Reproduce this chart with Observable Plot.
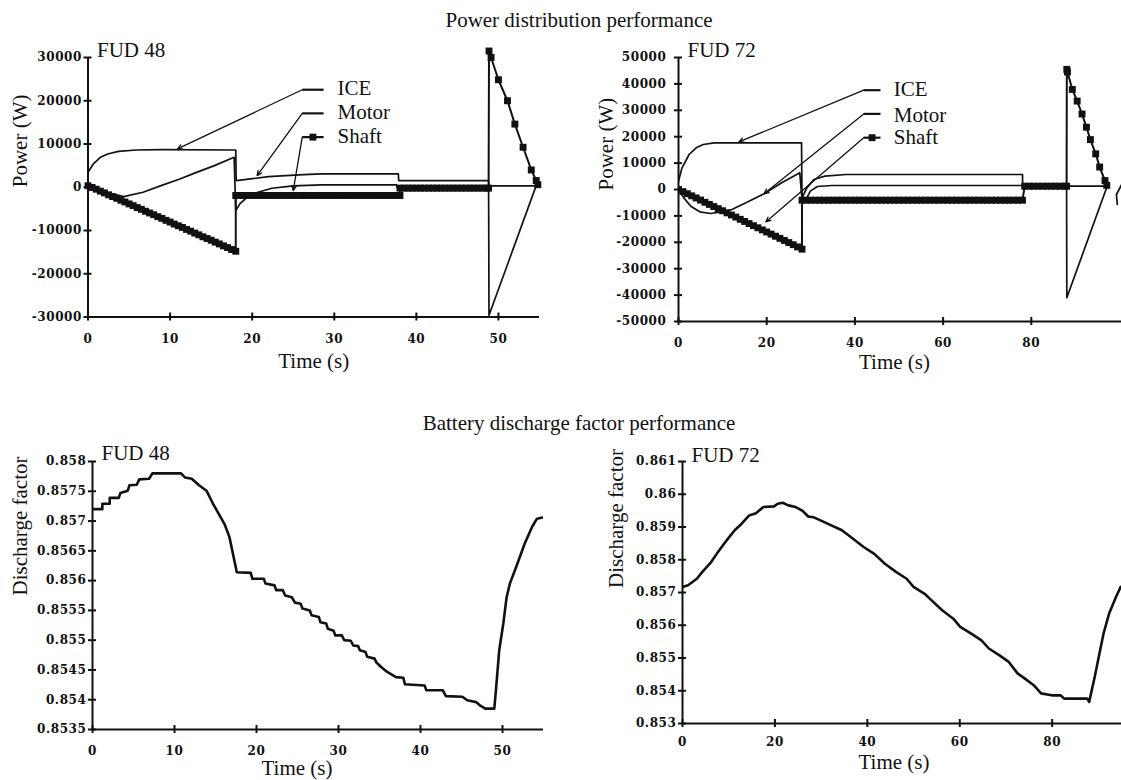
<!DOCTYPE html>
<html>
<head>
<meta charset="utf-8">
<script src="https://cdn.jsdelivr.net/npm/d3@7"></script>
<script src="https://cdn.jsdelivr.net/npm/@observablehq/plot@0.6"></script>
<style>
  html, body { margin: 0; padding: 0; background: #fff; }
  #root { position: relative; width: 1121px; height: 780px; overflow: hidden; background: #fff;
          font-family: "Liberation Serif", "Times New Roman", serif; color: #111; }
  .title { position: absolute; width: 600px; text-align: center; font-size: 21px; line-height: 24px; }
  .panel { position: absolute; }
  .panel svg { overflow: visible; }
  g[aria-label="y-axis tick label"] text, g[aria-label="x-axis tick label"] text {
    font-family: "DejaVu Serif", serif; font-weight: bold; font-size: 12px; letter-spacing: 0.6px;
  }
</style>
</head>
<body>
<div id="root">
  <div class="title" style="left:279px; top:8px;">Power distribution performance</div>
  <div class="title" style="left:279px; top:411px;">Battery discharge factor performance</div>
  <div class="panel" id="tl" style="left:0px; top:0px;"></div>
  <div class="panel" id="tr" style="left:560px; top:0px;"></div>
  <div class="panel" id="bl" style="left:0px; top:390px;"></div>
  <div class="panel" id="br" style="left:560px; top:390px;"></div>
</div>
<script>
// ---------------- DATA ----------------
const seriesNames = ["ICE", "Motor", "Shaft"];

// FUD 48 — power distribution (W)
const fud48XTicks = [0, 10, 20, 30, 40, 50];
const fud48PowerTicks = [-30000, -20000, -10000, 0, 10000, 20000, 30000];
const fud48IceTime  = [0, 0.65, 1.5, 2.4, 3.7, 5.9, 8.9, 18, 18.05, 19.8, 22, 24.1, 26.3, 28.5, 37.8, 37.85, 48.8, 48.85, 54.8];
const fud48IcePower = [3460, 5380, 6920, 7690, 8300, 8610, 8690, 8610, 1540, 1920, 2460, 2690, 2920, 3080, 3080, 1540, 1540, 300, 300];
const fud48MotorTime  = [0, 1.5, 3.3, 4.35, 6.7, 8.9, 11.1, 13.3, 15.4, 17.8, 18.0, 18.5, 19.3, 20.7, 22.4, 25, 28.5, 37.6, 37.65, 48.8, 48.85, 54.6, 54.8];
const fud48MotorPower = [0, -770, -1690, -2150, -1150, 380, 1850, 3500, 5000, 6920, -5380, -3850, -2460, -1150, -230, 310, 540, 540, 0, 0, -29600, 380, 380];
const fud48ShaftTime = [
  0, 0.5, 1, 1.5, 2, 2.5, 3, 3.5, 4, 4.5, 5, 5.5, 6, 6.5, 7, 7.5, 8, 8.5, 9, 9.5, 10, 10.5, 11, 11.5, 12, 12.5, 13, 13.5, 14, 14.5, 15, 15.5, 16, 16.5, 17, 17.5, 18,
  18, 18.5, 19, 19.5, 20, 20.5, 21, 21.5, 22, 22.5, 23, 23.5, 24, 24.5, 25, 25.5, 26, 26.5, 27, 27.5, 28, 28.5, 29, 29.5, 30, 30.5, 31, 31.5, 32, 32.5, 33, 33.5, 34, 34.5, 35, 35.5, 36, 36.5, 37, 37.5, 38,
  38, 38.5, 39, 39.5, 40, 40.5, 41, 41.5, 42, 42.5, 43, 43.5, 44, 44.5, 45, 45.5, 46, 46.5, 47, 47.5, 48, 48.5, 48.8,
  48.85, 49.1, 50, 51.1, 52, 53, 54, 54.6, 54.8];
const fud48ShaftPower = [
  350, -50, -450, -900, -1300, -1750, -2150, -2550, -3000, -3400, -3850, -4250, -4700, -5100, -5550, -5950, -6350, -6800, -7200, -7650, -8050, -8500, -8900, -9300, -9750, -10150, -10600, -11000, -11450, -11850, -12250, -12700, -13100, -13550, -13950, -14400, -14800,
  -1900, -1900, -1900, -1900, -1900, -1900, -1900, -1900, -1900, -1900, -1900, -1900, -1900, -1900, -1900, -1900, -1900, -1900, -1900, -1900, -1900, -1900, -1900, -1900, -1900, -1900, -1900, -1900, -1900, -1900, -1900, -1900, -1900, -1900, -1900, -1900, -1900, -1900, -1900, -1900, -1900,
  -200, -200, -200, -200, -200, -200, -200, -200, -200, -200, -200, -200, -200, -200, -200, -200, -200, -200, -200, -200, -200, -200, -200,
  31500, 30000, 24850, 20000, 14600, 9250, 4000, 1550, 600];

// FUD 72 — power distribution (W)
const fud72XTicks = [0, 20, 40, 60, 80];
const fud72PowerTicks = [-50000, -40000, -30000, -20000, -10000, 0, 10000, 20000, 30000, 40000, 50000];
const fud72IceTime  = [0, 0.8, 2.4, 4.0, 5.6, 8.1, 27.9, 28.0, 29.1, 30.7, 33.2, 38.0, 78.0, 78.05, 97.2];
const fud72IcePower = [3160, 8210, 13260, 15790, 17050, 17680, 17680, -3160, 630, 3790, 5050, 5680, 5680, 1250, 1250];
const fud72MotorTime  = [0, 1.2, 2.8, 4.8, 7.3, 9.7, 12.1, 15.3, 19.4, 23.4, 27.5, 28.0, 29.1, 29.9, 31.5, 34.8, 78.0, 78.05, 88.0, 88.05, 97.2, NaN, 100.5, 99.3, 99.5];
const fud72MotorPower = [0, -3160, -6320, -8460, -9090, -8460, -7580, -5050, -1640, 2530, 6320, -3800, -3160, -630, 1140, 1520, 1520, 1250, 1250, -41000, 1250, NaN, 1890, -1890, -5680];
const fud72ShaftTime = [
  0, 1, 2, 3, 4, 5, 6, 7, 8, 9, 10, 11, 12, 13, 14, 15, 16, 17, 18, 19, 20, 21, 22, 23, 24, 25, 26, 27, 28,
  28, 29, 30, 31, 32, 33, 34, 35, 36, 37, 38, 39, 40, 41, 42, 43, 44, 45, 46, 47, 48, 49, 50, 51, 52, 53, 54, 55, 56, 57, 58, 59, 60, 61, 62, 63, 64, 65, 66, 67, 68, 69, 70, 71, 72, 73, 74, 75, 76, 77, 78,
  78.5, 79.5, 80.5, 81.5, 82.5, 83.5, 84.5, 85.5, 86.5, 87.5, 88,
  88.05, 88.2, 89.3, 90.4, 91.5, 92.5, 93.4, 94.6, 95.5, 96.7, 97.1];
const fud72ShaftPower = [
  0, -800, -1600, -2400, -3200, -4000, -4850, -5650, -6450, -7250, -8050, -8850, -9650, -10450, -11300, -12100, -12900, -13700, -14500, -15300, -16100, -16900, -17700, -18500, -19300, -20100, -20900, -21750, -22600,
  -4050, -4050, -4050, -4050, -4050, -4050, -4050, -4050, -4050, -4050, -4050, -4050, -4050, -4050, -4050, -4050, -4050, -4050, -4050, -4050, -4050, -4050, -4050, -4050, -4050, -4050, -4050, -4050, -4050, -4050, -4050, -4050, -4050, -4050, -4050, -4050, -4050, -4050, -4050, -4050, -4050, -4050, -4050, -4050, -4050, -4050, -4050, -4050, -4050, -4050, -4050,
  1250, 1250, 1250, 1250, 1250, 1250, 1250, 1250, 1250, 1250, 1250,
  45500, 44500, 37900, 33500, 28600, 23600, 18900, 13500, 8500, 3400, 1600];

// FUD 48 — battery discharge factor
const fud48FactorTicks = [0.8535, 0.854, 0.8545, 0.855, 0.8555, 0.856, 0.8565, 0.857, 0.8575, 0.858];
const fud48DischargeTime = [0, 1.2, 1.2, 2.1, 2.1, 3.2, 3.4, 4.3, 4.5, 5.4, 5.7, 6.9, 7.3, 10.8, 11.3, 12.1, 13.0, 13.9, 14.7, 16.1, 16.7, 17.6, 19.3, 19.5, 20.9, 21.1, 22.2, 22.4, 23.2, 23.5, 24.3, 24.7, 25.4, 25.6, 26.5, 26.7, 27.6, 27.8, 28.5, 28.7, 29.4, 29.6, 30.4, 30.7, 31.5, 31.8, 32.4, 32.6, 33.3, 33.5, 34.4, 34.6, 35.2, 35.9, 37.0, 37.9, 38.1, 40.5, 40.7, 42.7, 43.1, 45.1, 45.7, 46.8, 47.2, 47.9, 49.0, 49.2, 49.6, 50.1, 50.5, 50.9, 51.8, 52.7, 53.6, 54.2, 54.9];
const fud48DischargeFactor = [0.8572, 0.8572, 0.85729, 0.85729, 0.85739, 0.85739, 0.85747, 0.85751, 0.8576, 0.85761, 0.8577, 0.85771, 0.8578, 0.8578, 0.85773, 0.85771, 0.8576, 0.85751, 0.85729, 0.85695, 0.85673, 0.85614, 0.85613, 0.85603, 0.85603, 0.85595, 0.85592, 0.85584, 0.85584, 0.85575, 0.85572, 0.85563, 0.85561, 0.85553, 0.8555, 0.85542, 0.85539, 0.8553, 0.85528, 0.85519, 0.85516, 0.85508, 0.85508, 0.855, 0.85499, 0.85491, 0.8549, 0.85483, 0.8548, 0.85472, 0.85469, 0.85463, 0.85455, 0.85447, 0.85438, 0.85437, 0.85426, 0.85424, 0.85416, 0.85416, 0.85406, 0.85405, 0.85399, 0.85396, 0.85391, 0.85385, 0.85385, 0.85416, 0.85483, 0.85528, 0.85572, 0.85595, 0.85628, 0.85662, 0.8569, 0.85704, 0.85706];

// FUD 72 — battery discharge factor
const fud72FactorTicks = [0.853, 0.854, 0.855, 0.856, 0.857, 0.858, 0.859, 0.86, 0.861];
const fud72DischargeTime = [0, 1.2, 3.1, 4.3, 6.2, 7.4, 9.0, 10.1, 11.3, 12.8, 14.4, 15.9, 17.5, 19.8, 20.6, 21.7, 22.9, 24.5, 26.0, 27.2, 28.3, 30.7, 32.2, 34.5, 36.9, 39.2, 41.5, 43.8, 46.2, 48.5, 50.0, 52.4, 53.9, 56.2, 58.6, 60.1, 62.4, 64.7, 66.3, 68.6, 70.6, 72.5, 74.1, 76.0, 77.6, 79.9, 81.8, 82.6, 87.6, 88.0, 89.2, 91.1, 92.3, 93.8, 94.8];
const fud72DischargeFactor = [0.85717, 0.85722, 0.85742, 0.85763, 0.85793, 0.85818, 0.85849, 0.85869, 0.8589, 0.8591, 0.85935, 0.85942, 0.85961, 0.85963, 0.85971, 0.85974, 0.85966, 0.85961, 0.85949, 0.85932, 0.8593, 0.85915, 0.85905, 0.8589, 0.85864, 0.85839, 0.85818, 0.85788, 0.85763, 0.85742, 0.85717, 0.85696, 0.85676, 0.85646, 0.8562, 0.85595, 0.85575, 0.85554, 0.85529, 0.85508, 0.85488, 0.85453, 0.85437, 0.85417, 0.85392, 0.85386, 0.85386, 0.85376, 0.85376, 0.85366, 0.85442, 0.85574, 0.85635, 0.85686, 0.85717];

// ---------------- DRAWING ----------------
const ink = "#111";
const serif = '"Liberation Serif", "Times New Roman", serif';
const tickFont = '"DejaVu Serif", serif';
const zip = (a, b) => a.map((t, i) => [t, b[i]]);

function axisMarks(xDomain, yDomain, xTicks, yTicks, yPad, xPad) {
  return [
    Plot.ruleY([yDomain[0]], {stroke: ink, strokeWidth: 2}),
    Plot.ruleX([xDomain[0]], {stroke: ink, strokeWidth: 2}),
    Plot.axisY({ticks: yTicks, tickSize: 4, tickPadding: yPad, tickFormat: d => String(d), label: null,
                strokeWidth: 2, fontSize: 12, fontWeight: "bold", fontFamily: tickFont}),
    Plot.axisY({ticks: yTicks, tickSize: 4, dx: 4, tickFormat: () => "", label: null, strokeWidth: 2}),
    Plot.axisX({ticks: xTicks, tickSize: 4, tickPadding: xPad, tickFormat: d => String(d), label: null,
                strokeWidth: 2, fontSize: 12, fontWeight: "bold", fontFamily: tickFont}),
    Plot.axisX({ticks: xTicks, tickSize: 4, dy: -4, tickFormat: () => "", label: null, strokeWidth: 2})
  ];
}

function legendMarks(pos) {
  return [
    Plot.link(seriesNames, {x1: () => pos.segX[0], x2: () => pos.segX[1], y1: (d, i) => pos.segY[i], y2: (d, i) => pos.segY[i],
                            stroke: ink, strokeWidth: 2.2}),
    Plot.arrow(seriesNames, {x1: () => pos.segX[0], y1: (d, i) => pos.segY[i], x2: (d, i) => pos.targets[i][0], y2: (d, i) => pos.targets[i][1],
                             stroke: ink, strokeWidth: 1.3, headLength: 6, headAngle: 50}),
    Plot.dot([seriesNames[2]], {x: () => pos.squareX, y: () => pos.segY[2], symbol: "square", r: 3.9, fill: ink}),
    Plot.text(seriesNames, {x: () => pos.textX, y: (d, i) => pos.textY[i], text: d => d, textAnchor: "start", lineAnchor: "middle",
                            fontSize: 21, fontFamily: serif, fill: ink})
  ];
}

function labelMarks(fud, yLabel, fudDx, fudDy, yDx, yDy, tDx, tDy) {
  return [
    Plot.text([fud], {frameAnchor: "top-left", text: d => d, dx: fudDx, dy: fudDy, textAnchor: "start", lineAnchor: "middle", fontSize: 21, fontFamily: serif, fill: ink}),
    Plot.text([yLabel], {frameAnchor: "left", text: d => d, rotate: -90, dx: yDx, dy: yDy, lineAnchor: "middle", fontSize: 21, fontFamily: serif, fill: ink}),
    Plot.text(["Time (s)"], {frameAnchor: "bottom", text: d => d, dx: tDx, dy: tDy, lineAnchor: "middle", fontSize: 21, fontFamily: serif, fill: ink})
  ];
}

const baseStyle = {background: "transparent", color: ink, fontFamily: serif, overflow: "visible"};

// Top-left: FUD 48 power
{
  const xD = [0, 55], yD = [-30000, 30000];
  const shaft = zip(fud48ShaftTime, fud48ShaftPower);
  const chart = Plot.plot({
    width: 560, height: 390, marginLeft: 87.5, marginRight: 21, marginTop: 57, marginBottom: 73.5,
    x: {domain: xD}, y: {domain: yD}, style: baseStyle,
    marks: [
      ...axisMarks(xD, yD, fud48XTicks, fud48PowerTicks, 2, 13),
      Plot.line(zip(fud48IceTime, fud48IcePower), {stroke: ink, strokeWidth: 1.7}),
      Plot.line(zip(fud48MotorTime, fud48MotorPower), {stroke: ink, strokeWidth: 1.7}),
      Plot.line(shaft, {stroke: ink, strokeWidth: 2}),
      Plot.dot(shaft, {symbol: "square", r: 3.9, fill: ink}),
      ...legendMarks({segX: [26.1, 28.7], segY: [22550, 17080, 11590], textX: 30.4, textY: [22780, 17240, 11700],
                      squareX: 27.4, targets: [[10.9, 8860], [20.6, 2700], [25.0, -760]]}),
      ...labelMarks("FUD 48", "Power (W)", 9, -7, -67.5, 0, 0, 44.5)
    ]
  });
  document.getElementById("tl").append(chart);
}

// Top-right: FUD 72 power
{
  const xD = [0, 100.45], yD = [-50000, 50000];
  const shaft = zip(fud72ShaftTime, fud72ShaftPower);
  const chart = Plot.plot({
    width: 561, height: 390, marginLeft: 118, marginRight: 0, marginTop: 57, marginBottom: 69,
    x: {domain: xD}, y: {domain: yD}, style: baseStyle,
    marks: [
      ...axisMarks(xD, yD, fud72XTicks, fud72PowerTicks, 8, 13),
      Plot.line(zip(fud72IceTime, fud72IcePower), {stroke: ink, strokeWidth: 1.7, clip: true}),
      Plot.line(zip(fud72MotorTime, fud72MotorPower), {stroke: ink, strokeWidth: 1.7, clip: true}),
      Plot.line(shaft, {stroke: ink, strokeWidth: 2, clip: true}),
      Plot.dot(shaft, {symbol: "square", r: 3.9, fill: ink, clip: true}),
      ...legendMarks({segX: [42.0, 45.8], segY: [37610, 28640, 19620], textX: 48.8, textY: [37990, 28150, 19810],
                      squareX: 43.9, targets: [[13.7, 18030], [19.4, -1640], [19.8, -12270]]}),
      ...labelMarks("FUD 72", "Power (W)", 9, -7, -72, 1, -5.5, 41)
    ]
  });
  document.getElementById("tr").append(chart);
}

// Bottom-left: FUD 48 discharge factor
{
  const xD = [0, 55], yD = [0.8535, 0.858];
  const chart = Plot.plot({
    width: 560, height: 390, marginLeft: 92, marginRight: 17, marginTop: 71, marginBottom: 51,
    x: {domain: xD}, y: {domain: yD}, style: baseStyle,
    marks: [
      ...axisMarks(xD, yD, fud48XTicks, fud48FactorTicks, 2, 13),
      Plot.line(zip(fud48DischargeTime, fud48DischargeFactor), {stroke: ink, strokeWidth: 2.6, clip: true}),
      ...labelMarks("FUD 48", "Discharge factor", 9, -8, -72, 0, -21, 39)
    ]
  });
  document.getElementById("bl").append(chart);
}

// Bottom-right: FUD 72 discharge factor
{
  const xD = [0, 95], yD = [0.853, 0.861];
  const chart = Plot.plot({
    width: 561, height: 390, marginLeft: 122, marginRight: 0, marginTop: 71, marginBottom: 57,
    x: {domain: xD}, y: {domain: yD}, style: baseStyle,
    marks: [
      ...axisMarks(xD, yD, fud72XTicks, fud72FactorTicks, 2, 10),
      Plot.line(zip(fud72DischargeTime, fud72DischargeFactor), {stroke: ink, strokeWidth: 2.6, clip: true}),
      ...labelMarks("FUD 72", "Discharge factor", 9, -6, -66, -4.5, -8, 39)
    ]
  });
  document.getElementById("br").append(chart);
}
</script>
</body>
</html>
